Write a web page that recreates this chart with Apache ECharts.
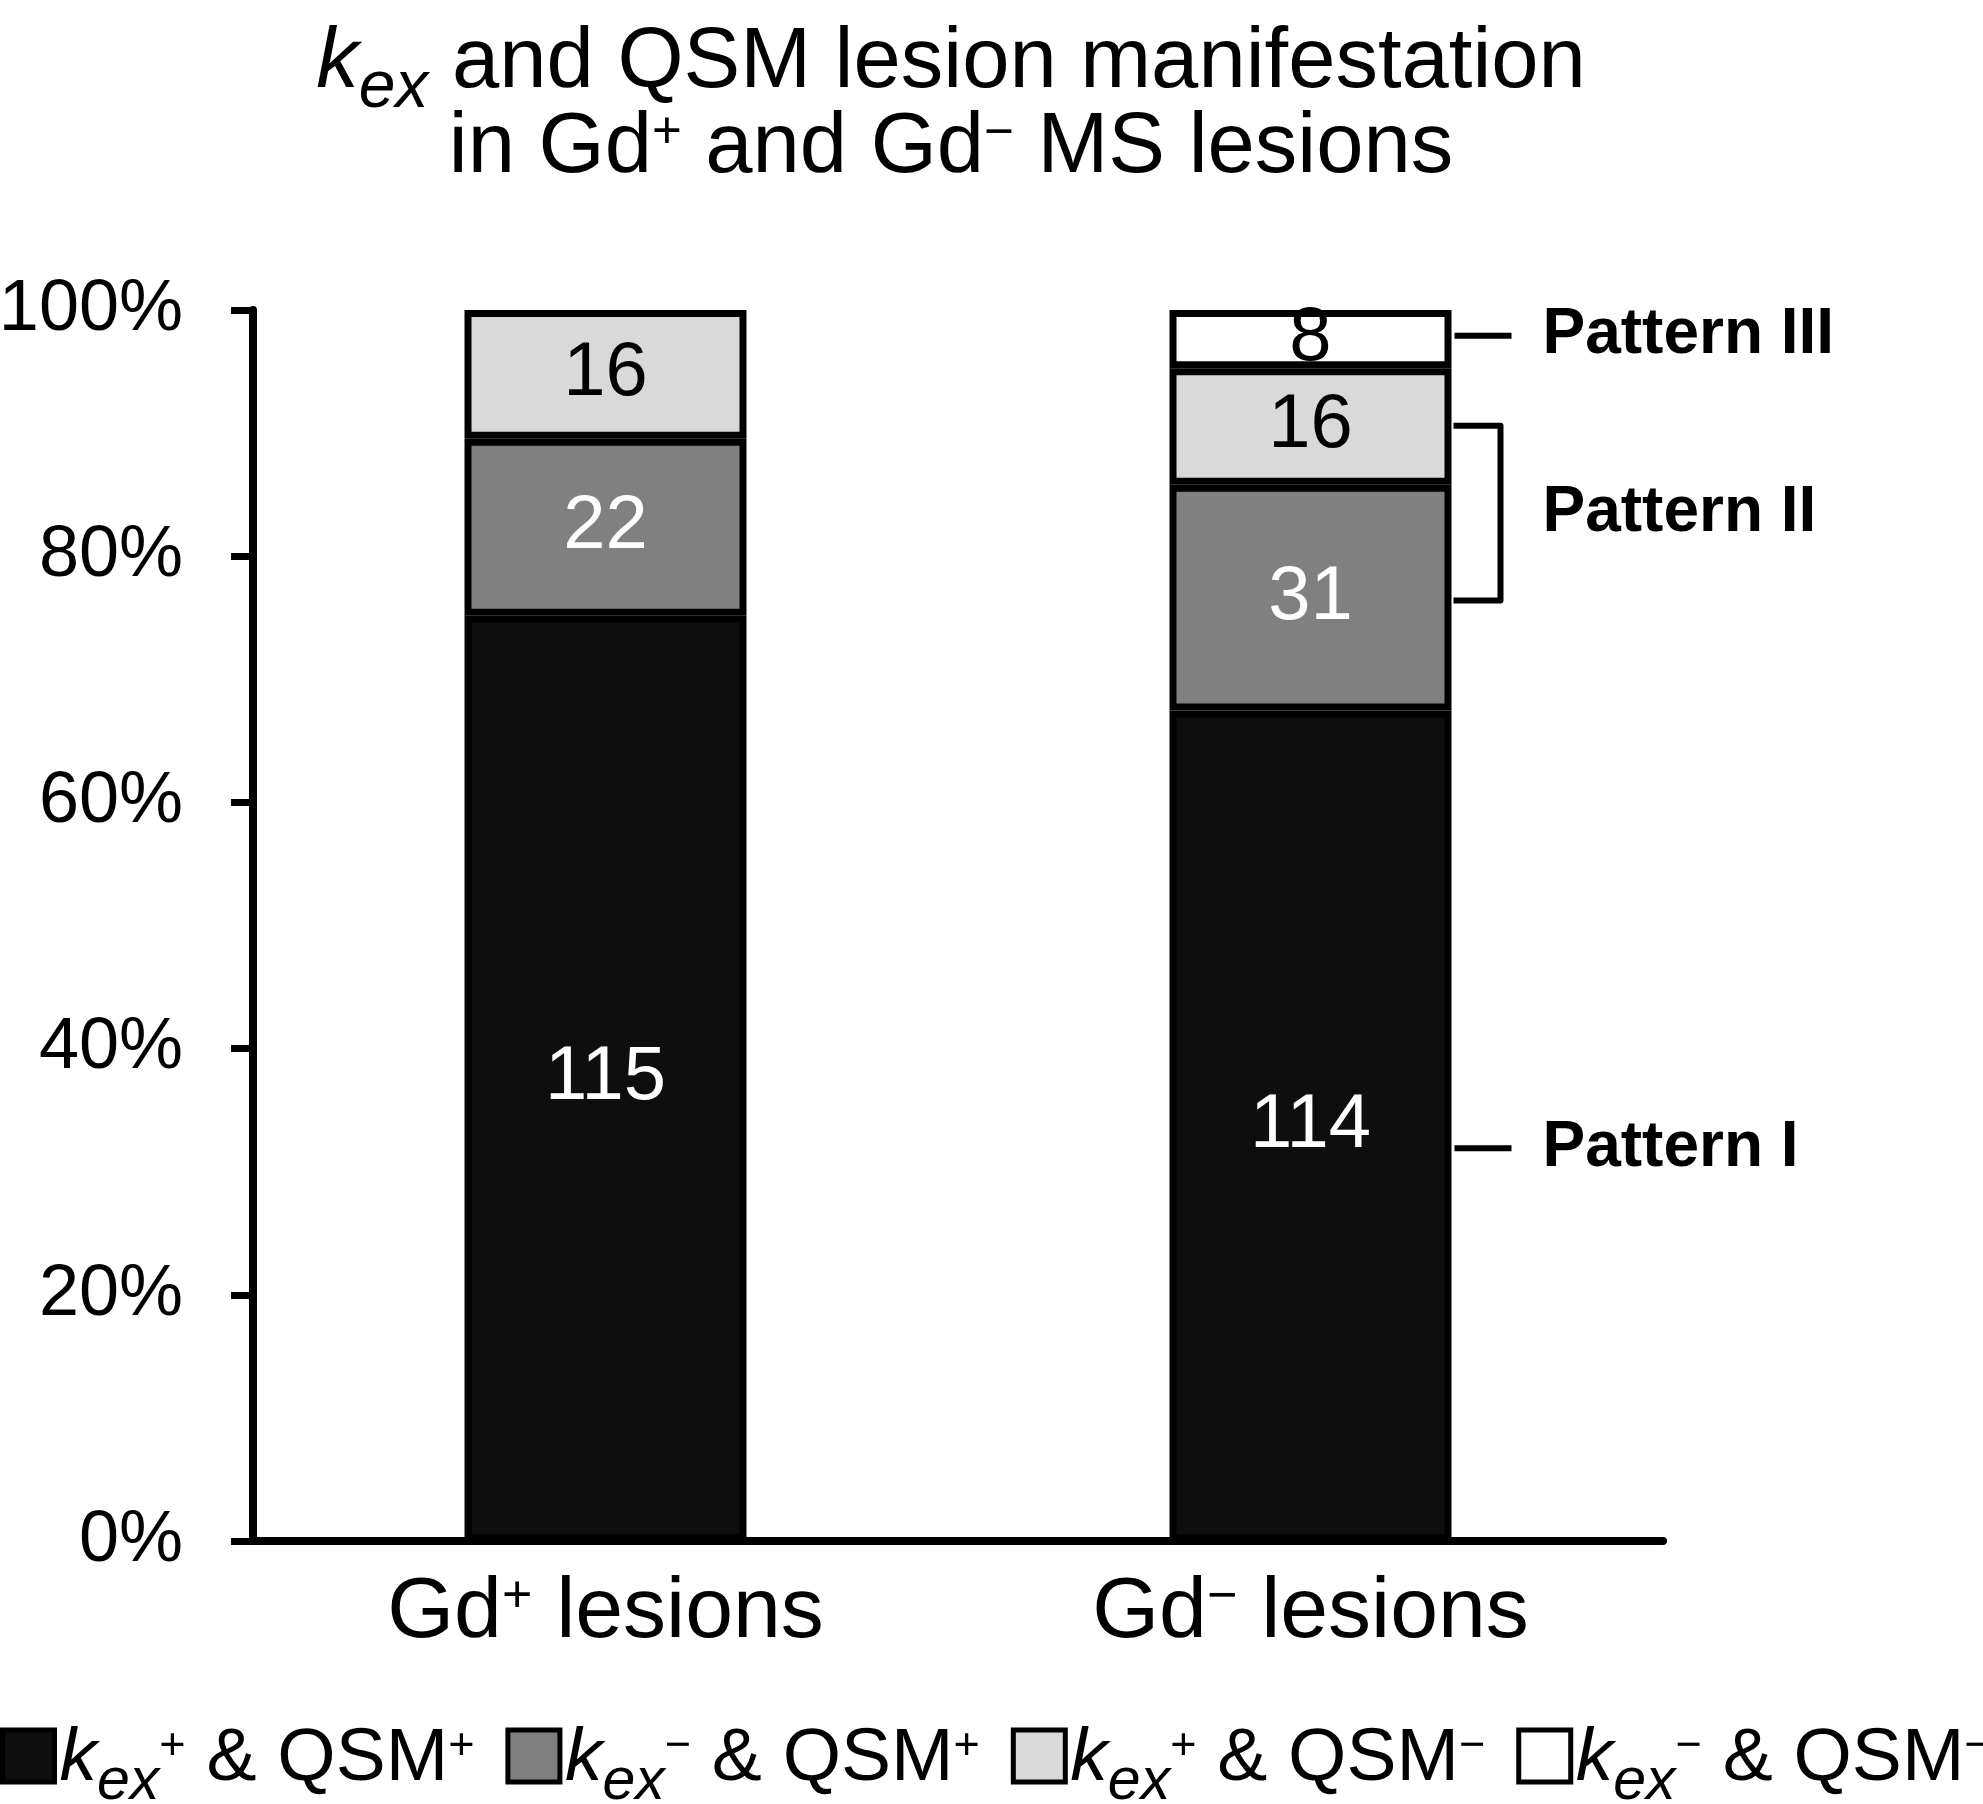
<!doctype html>
<html>
	<head>
		<meta charset="utf-8">
		<title>kex and QSM lesion manifestation</title>
		<style>
			html, body { margin: 0; padding: 0; background: #fff; }
		</style>
	</head>
	<body>
		<div id="container" style="height: 1804px; width: 1983px;"></div>

		<script src="https://cdn.jsdelivr.net/npm/echarts@6/dist/echarts.min.js"></script>

		<script>
			// markup: k_ex -> italic k with subscript ex, ^+ / ^- -> superscript sign
			const titleLines = ['k_ex and QSM lesion manifestation', 'in Gd^+ and Gd^- MS lesions'];
			const categories = ['Gd^+ lesions', 'Gd^- lesions'];
			const seriesNames = ['k_ex^+ & QSM^+', 'k_ex^- & QSM^+', 'k_ex^+ & QSM^-', 'k_ex^- & QSM^-'];
			const seriesColors = ['#0e0e0e', '#808080', '#d9d9d9', '#ffffff'];
			const labelColors = ['#ffffff', '#ffffff', '#000000', '#000000'];

			// lesion counts per series, one value per category
			const countsPP = [115, 114];
			const countsMP = [22, 31];
			const countsPM = [16, 16];
			const countsMM = [null, 8];
			const counts = [countsPP, countsMP, countsPM, countsMM];

			const yTicks = [0, 20, 40, 60, 80, 100];

			// pattern annotations on the Gd- bar (percent positions)
			const patternNames = ['Pattern III', 'Pattern II', 'Pattern I'];
			const patternFrom = [97.9, 90.6, 31.9];
			const patternTo = [97.9, 76.4, 31.9];

			const FONT = "'Liberation Sans', Arial, Helvetica, sans-serif";

			function rt(s) {
				return s.split(/(k_ex|\^\+|\^-)/).filter(t => t !== '').map(t => {
					if (t === 'k_ex') return '{it|k}{sub|ex}';
					if (t === '^+') return '{sup|+}';
					if (t === '^-') return '{sup|\u2212}';
					return '{n|' + t + '}';
				}).join('');
			}

			function richStyles(size, lineHeight) {
				const base = { fontFamily: FONT, fontWeight: 'normal', color: '#000', verticalAlign: 'top', lineHeight: lineHeight };
				const m = Math.round(size * 0.1);
				return {
					n: Object.assign({}, base, { fontSize: size, padding: [m, 0, 0, 0] }),
					it: Object.assign({}, base, { fontSize: size, fontStyle: 'italic', padding: [m, 0, 0, 0] }),
					sub: Object.assign({}, base, { fontSize: Math.round(size * 0.78), fontStyle: 'italic', padding: [Math.round(size * 0.52), 0, 0, 0] }),
					sup: Object.assign({}, base, { fontSize: Math.round(size * 0.6), padding: [Math.round(size * 0.13), 0, 0, 0] })
				};
			}

			const totals = categories.map((c, j) => counts.reduce((a, s) => a + (s[j] || 0), 0));

			var dom = document.getElementById('container');
			var myChart = echarts.init(dom, null, { renderer: 'canvas' });

			let opts = {
				animation: false,
				backgroundColor: '#ffffff',
				title: {
					text: titleLines.map(rt).join('\n'),
					left: 951,
					top: 12,
					padding: 0,
					textAlign: 'center',
					textStyle: {
						fontWeight: 'normal',
						rich: richStyles(85, 85)
					}
				},
				legend: {
					data: seriesNames,
					left: 0,
					top: 1714,
					width: 2100,
					padding: 0,
					itemGap: 31,
					itemWidth: 52,
					itemHeight: 52,
					icon: 'rect',
					selectedMode: false,
					itemStyle: { borderColor: '#000', borderWidth: 5 },
					formatter: name => rt(name),
					textStyle: {
						rich: richStyles(75, 84)
					}
				},
				grid: {
					left: 253,
					right: 320,
					top: 310,
					bottom: 263,
					containLabel: false,
					outerBoundsMode: 'none'
				},
				xAxis: {
					type: 'category',
					data: categories,
					axisLine: { lineStyle: { color: '#000', width: 8 } },
					axisTick: { show: false },
					axisLabel: {
						margin: 20,
						formatter: v => rt(v),
						rich: richStyles(86, 100)
					},
					splitLine: { show: false }
				},
				yAxis: {
					type: 'value',
					min: yTicks[0],
					max: yTicks[yTicks.length - 1],
					interval: yTicks[1] - yTicks[0],
					axisLine: { show: true, lineStyle: { color: '#000', width: 8 } },
					axisTick: { show: true, inside: false, length: 22, lineStyle: { color: '#000', width: 7 } },
					axisLabel: {
						margin: 70,
						formatter: '{value}%',
						color: '#000',
						fontFamily: FONT,
						fontSize: 72
					},
					splitLine: { show: false }
				},
				series: seriesNames.map((name, i) => ({
					name: name,
					type: 'bar',
					stack: 'total',
					barWidth: '40%',
					itemStyle: { color: seriesColors[i], borderColor: '#000', borderWidth: 7 },
					label: {
						show: true,
						position: 'inside',
						color: labelColors[i],
						fontFamily: FONT,
						fontSize: 76,
						formatter: p => counts[i][p.dataIndex]
					},
					data: counts[i].map((c, j) => c == null ? null : c / totals[j] * 100)
				}))
			};

			myChart.setOption(opts, true);

			// annotations beside the second bar
			const p0 = myChart.convertToPixel({ gridIndex: 0 }, [0, 0]);
			const p1 = myChart.convertToPixel({ gridIndex: 0 }, [1, 0]);
			const band = p1[0] - p0[0];
			const barRight = p1[0] + band * 0.2 + 3;
			const elements = [];
			patternNames.forEach((label, k) => {
				const ya = myChart.convertToPixel({ gridIndex: 0 }, [1, patternFrom[k]])[1];
				const yb = myChart.convertToPixel({ gridIndex: 0 }, [1, patternTo[k]])[1];
				if (ya === yb) {
					elements.push({
						type: 'line',
						shape: { x1: barRight, y1: ya, x2: barRight + 57, y2: ya },
						style: { stroke: '#000', lineWidth: 6 }
					});
				} else {
					elements.push({
						type: 'polyline',
						shape: { points: [[barRight - 1, ya], [barRight + 46, ya], [barRight + 46, yb], [barRight - 1, yb]] },
						style: { stroke: '#000', lineWidth: 6, fill: null, lineJoin: 'round' }
					});
				}
				elements.push({
					type: 'text',
					x: barRight + 88,
					y: (ya + yb) / 2,
					style: {
						text: label,
						font: 'bold 64px ' + FONT,
						fill: '#000',
						align: 'left',
						verticalAlign: 'middle'
					}
				});
			});
			myChart.setOption({ graphic: { elements: elements } });
		</script>
	</body>
</html>
